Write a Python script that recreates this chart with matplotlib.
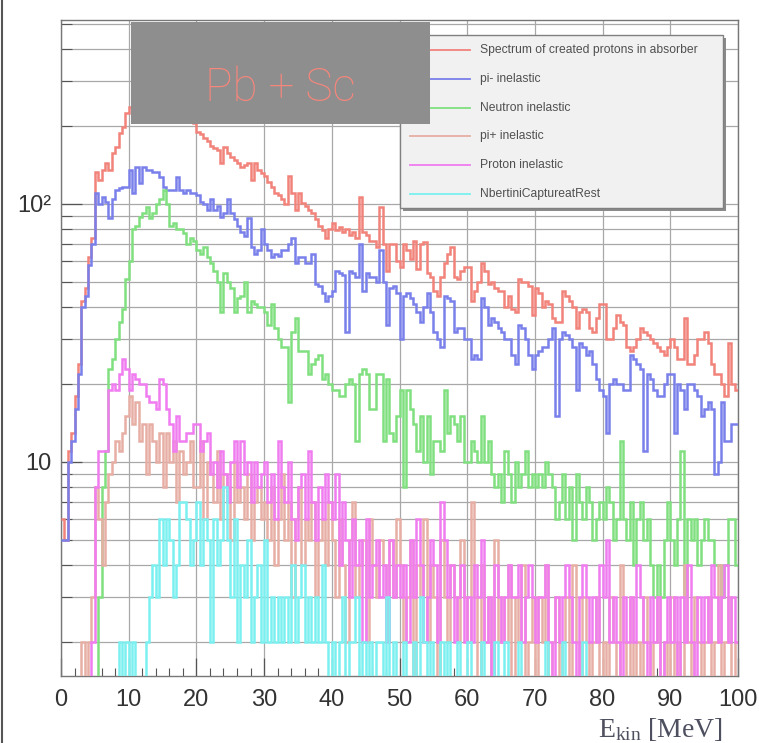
import numpy as np
import matplotlib
matplotlib.use("Agg")
import matplotlib.pyplot as plt
from matplotlib.patches import Rectangle
from matplotlib.lines import Line2D
from matplotlib.ticker import FixedLocator, FixedFormatter, NullFormatter

# ---------------- data (0.5 MeV bins, 0-100 MeV) ----------------
labels = ["Spectrum of created protons in absorber", "pi- inelastic",
          "Neutron inelastic", "pi+ inelastic", "Proton inelastic",
          "NbertiniCaptureatRest"]

spectrum = [
    6, 5, 11, 13, 18, 24, 42, 47, 62, 74, 133, 124, 135, 144, 135, 158, 166, 188, 199, 225,
    238, 250, 270, 285, 300, 310, 320, 330, 325, 335, 320, 310, 300, 290, 275, 262, 250, 235, 215, 205,
    190, 186, 180, 175, 168, 165, 162, 144, 166, 158, 152, 148, 144, 139, 142, 144, 124, 144, 135, 132,
    128, 122, 116, 110, 108, 104, 100, 128, 110, 95, 110, 101, 98, 95, 92, 87, 82, 79, 74, 80,
    84, 79, 81, 78, 80, 76, 78, 74, 106, 78, 76, 72, 72, 68, 97, 70, 55, 70, 70, 60,
    57, 70, 66, 61, 72, 56, 70, 71, 54, 52, 46, 44, 52, 59, 64, 68, 52, 51, 55, 57,
    57, 42, 46, 50, 59, 55, 49, 50, 47, 46, 46, 40, 44, 39, 38, 51, 50, 50, 48, 37,
    47, 45, 40, 42, 41, 36, 35, 35, 46, 44, 42, 40, 33, 38, 39, 38, 33, 32, 36, 41,
    41, 30, 30, 33, 37, 35, 34, 28, 27, 28, 30, 33, 32, 31, 30, 29, 28, 27, 26, 28,
    30, 28, 25, 25, 36, 24, 24, 26, 30, 30, 32, 29, 24, 22, 22, 20, 18, 29, 20, 19]

pim_inel = [
    5, 5, 10, 12, 16, 22, 40, 44, 58, 70, 110, 100, 106, 102, 88, 104, 113, 115, 116, 116,
    135, 110, 139, 120, 139, 135, 135, 133, 133, 127, 116, 113, 113, 113, 127, 113, 110, 113, 110, 110,
    108, 102, 100, 95, 104, 95, 98, 89, 92, 104, 92, 87, 82, 78, 75, 88, 68, 64, 66, 80,
    70, 66, 62, 64, 63, 66, 66, 70, 74, 59, 62, 62, 59, 59, 64, 49, 48, 45, 42, 44,
    46, 55, 54, 53, 32, 55, 54, 52, 70, 46, 54, 52, 52, 50, 66, 50, 34, 47, 48, 45,
    30, 44, 45, 43, 41, 38, 35, 40, 45, 38, 32, 30, 28, 44, 43, 42, 32, 33, 33, 30,
    30, 25, 26, 25, 43, 40, 34, 36, 35, 33, 32, 30, 30, 26, 24, 34, 33, 30, 26, 23,
    26, 27, 28, 28, 30, 33, 15, 30, 32, 31, 30, 28, 19, 29, 28, 26, 27, 24, 21, 19,
    18, 13, 20, 21, 20, 20, 19, 19, 26, 25, 24, 23, 11, 22, 21, 19, 18, 18, 20, 22,
    22, 13, 20, 19, 16, 20, 20, 19, 18, 15, 16, 17, 16, 9, 10, 17, 12, 12, 14, 14]

neutron_inel = [
    0, 0, 0, 0, 0, 0, 0, 0, 0, 0, 1, 3, 8, 11, 23, 25, 30, 35, 39, 51,
    60, 80, 82, 89, 92, 97, 88, 92, 100, 104, 113, 100, 82, 84, 80, 80, 77, 70, 74, 72,
    66, 64, 68, 62, 59, 55, 50, 38, 54, 50, 47, 38, 43, 44, 50, 38, 42, 41, 40, 40,
    38, 34, 41, 33, 30, 28, 28, 17, 32, 36, 27, 27, 27, 22, 24, 25, 26, 21, 22, 20,
    19, 19, 18, 18, 20, 21, 20, 12, 22, 23, 22, 16, 16, 22, 22, 12, 21, 13, 12, 15,
    19, 8, 19, 16, 14, 11, 15, 10, 15, 9, 12, 12, 11, 19, 13, 15, 14, 12, 15, 10,
    10, 12, 11, 10, 15, 10, 12, 9, 8, 9, 7, 11, 9, 7, 10, 8, 9, 11, 8, 9,
    8, 9, 8, 10, 9, 8, 6, 7, 9, 6, 8, 5, 9, 7, 6, 8, 7, 5, 6, 7,
    6, 8, 7, 5, 6, 12, 6, 5, 7, 4, 6, 7, 5, 6, 4, 3, 4, 3, 5, 7,
    5, 4, 6, 11, 3, 6, 5, 6, 4, 5, 6, 5, 5, 4, 4, 3, 4, 6, 6, 4]

pip_inel = [
    0, 0, 0, 0, 0, 0, 2, 0, 2, 3, 8, 6, 4, 7, 9, 10, 12, 11, 13, 15,
    18, 14, 17, 12, 14, 9, 14, 12, 10, 13, 8, 13, 10, 12, 7, 11, 9, 10, 12, 8,
    8, 12, 6, 10, 9, 7, 11, 6, 9, 8, 5, 10, 7, 8, 6, 9, 5, 7, 8, 6,
    7, 5, 8, 4, 6, 9, 5, 7, 3, 6, 8, 4, 6, 5, 7, 3, 5, 6, 4, 7,
    5, 3, 6, 4, 2, 5, 7, 3, 4, 5, 2, 6, 4, 3, 5, 4, 2, 5, 3, 6,
    4, 2, 3, 5, 1, 4, 3, 6, 2, 4, 3, 1, 5, 3, 2, 4, 3, 2, 5, 3,
    2, 7, 3, 1, 4, 2, 3, 1, 5, 2, 3, 2, 4, 1, 3, 2, 4, 1, 2, 3,
    1, 3, 2, 4, 1, 2, 3, 0, 2, 3, 1, 4, 2, 1, 3, 2, 1, 2, 3, 1,
    2, 1, 3, 2, 1, 4, 2, 1, 3, 0, 2, 1, 3, 2, 1, 2, 3, 1, 2, 1,
    3, 1, 2, 1, 4, 2, 1, 3, 2, 1, 2, 3, 1, 2, 4, 1, 2, 3, 1, 2]

proton_inel = [
    0, 0, 0, 0, 0, 0, 0, 0, 0, 2, 8, 11, 11, 11, 19, 20, 19, 22, 25, 23,
    19, 22, 21, 20, 20, 18, 17, 17, 16, 21, 20, 16, 14, 11, 15, 12, 12, 13, 13, 14,
    14, 11, 12, 13, 9, 10, 8, 11, 9, 7, 10, 12, 8, 12, 9, 10, 7, 10, 8, 9,
    10, 7, 9, 6, 12, 8, 7, 10, 6, 5, 8, 9, 6, 11, 7, 5, 8, 6, 9, 7,
    6, 9, 4, 7, 5, 3, 6, 4, 5, 2, 6, 3, 4, 5, 3, 4, 2, 5, 3, 4,
    3, 4, 2, 5, 3, 6, 4, 2, 3, 5, 4, 2, 7, 5, 3, 4, 2, 3, 4, 2,
    3, 2, 4, 3, 5, 2, 3, 1, 4, 3, 2, 3, 4, 3, 3, 4, 2, 3, 4, 3,
    2, 3, 3, 4, 2, 1, 3, 2, 3, 4, 3, 2, 1, 3, 4, 3, 2, 3, 2, 4,
    3, 5, 2, 3, 2, 1, 3, 2, 3, 2, 4, 3, 2, 1, 3, 2, 3, 1, 2, 3,
    2, 3, 1, 3, 2, 4, 2, 1, 3, 2, 3, 2, 4, 3, 2, 3, 4, 2, 3, 2]

bertini_capture = [
    0, 0, 0, 0, 0, 0, 0, 0, 0, 0, 0, 0, 0, 0, 0, 0, 0, 2, 0, 2,
    0, 2, 0, 1, 0, 2, 3, 4, 3, 6, 4, 6, 5, 3, 4, 7, 7, 6, 4, 5,
    7, 4, 6, 5, 2, 6, 4, 5, 8, 5, 3, 6, 2, 4, 3, 5, 2, 3, 4, 2,
    5, 2, 3, 2, 3, 2, 3, 2, 4, 2, 3, 4, 2, 3, 2, 3, 2, 4, 2, 1,
    2, 1, 2, 3, 1, 2, 2, 3, 1, 2, 1, 2, 1, 2, 2, 1, 3, 1, 2, 1,
    1, 2, 1, 0, 2, 1, 3, 2, 1, 2, 0, 1, 2, 1, 2, 1, 0, 2, 1, 1,
    2, 1, 0, 1, 2, 0, 1, 1, 2, 0, 1, 2, 1, 0, 1, 2, 1, 0, 1, 0,
    1, 0, 1, 2, 0, 1, 0, 1, 2, 0, 1, 0, 1, 0, 2, 1, 0, 1, 0, 1,
    0, 1, 0, 1, 0, 0, 1, 0, 1, 0, 0, 1, 0, 0, 1, 0, 0, 1, 0, 0,
    0, 1, 0, 0, 1, 0, 0, 0, 1, 0, 0, 0, 1, 0, 0, 0, 0, 1, 0, 0]

series = [spectrum, pim_inel, neutron_inel, pip_inel, proton_inel, bertini_capture]
colors = ["#f2837b", "#7a80ea", "#80e080", "#e6aea4", "#f07cf0", "#7af0f0"]

x_range = (0, 100)
y_range = (1.48, 516)
x_major = list(range(0, 101, 10))
x_minor = list(range(0, 101, 2))
y_major = [10, 100]
y_major_labels = ["10", "10\u00b2"]
y_minor = [2, 3, 4, 5, 6, 7, 8, 9, 20, 30, 40, 50, 60, 70, 80, 90, 200, 300, 400, 500]

for s in series:
    assert len(s) == 200, len(s)

plt.rcParams["font.family"] = ["Liberation Sans", "DejaVu Sans"]
plt.rcParams["mathtext.fontset"] = "custom"
plt.rcParams["mathtext.rm"] = "Liberation Serif"
plt.rcParams["mathtext.it"] = "Liberation Serif:italic"

W, H = 759, 743
fig = plt.figure(figsize=(W / 100, H / 100), dpi=100)
ax = fig.add_axes([61 / W, 1 - 676 / H, 677 / W, 656 / H])

edges = np.linspace(x_range[0], x_range[1], len(spectrum) + 1)
for vals, col in zip(series, colors):
    v = np.asarray(vals, dtype=float)
    v = np.where(v > 0, v, 0.05)
    ax.stairs(v, edges, color=col, lw=1.8, baseline=None, zorder=3)

ax.set_yscale("log")
ax.set_xlim(*x_range)
ax.set_ylim(*y_range)

ax.xaxis.set_major_locator(FixedLocator(x_major))
ax.xaxis.set_minor_locator(FixedLocator(x_minor))
ax.yaxis.set_major_locator(FixedLocator(y_major))
ax.yaxis.set_major_formatter(FixedFormatter(y_major_labels))
ax.yaxis.set_minor_locator(FixedLocator(y_minor))
ax.yaxis.set_minor_formatter(NullFormatter())

ax.set_axisbelow(True)
ax.yaxis.grid(True, which="both", color="#a8a8a8", lw=0.9)
ax.xaxis.grid(True, which="major", color="#a8a8a8", lw=0.9)

ax.tick_params(axis="x", which="major", direction="in", length=13, width=0.9,
               color="#555555", pad=9, labelsize=17, labelcolor="#333333")
ax.tick_params(axis="x", which="minor", direction="in", length=6, width=0.8,
               color="#555555")
ax.tick_params(axis="y", which="major", direction="in", length=15, width=0.9,
               color="#555555", pad=7, labelsize=17, labelcolor="#333333")
ax.tick_params(axis="y", which="minor", direction="in", length=8, width=0.8,
               color="#555555")
for sp in ax.spines.values():
    sp.set_color("#777777")
    sp.set_linewidth(1.0)

# image border on the left
fig.add_artist(Line2D([1.5 / W, 1.5 / W], [0, 1], color="#555555", lw=1.5))

# legend (manual, ROOT style)
lx0, ly_top, lw_, lh_ = 400, 35, 323, 173
fig.add_artist(Rectangle(((lx0 + 3) / W, 1 - (ly_top + lh_ + 3) / H), lw_ / W, lh_ / H,
                         transform=fig.transFigure, facecolor="#8a8a8a",
                         edgecolor="none", zorder=4))
fig.add_artist(Rectangle((lx0 / W, 1 - (ly_top + lh_) / H), lw_ / W, lh_ / H,
                         transform=fig.transFigure, facecolor="#f1f1f1",
                         edgecolor="#808080", lw=1.0, zorder=5))
for i, (lab, col) in enumerate(zip(labels, colors)):
    yy = 1 - (50 + 28.8 * i) / H
    fig.add_artist(Line2D([410 / W, 470 / W], [yy, yy], color=col, lw=1.3, zorder=6))
    fig.text(480 / W, yy, lab, fontsize=8.7, color="#505050", va="center",
             ha="left", zorder=6)

# grey title box
fig.add_artist(Rectangle((131 / W, 1 - 124 / H), 299 / W, 102 / H,
                         transform=fig.transFigure, facecolor="#8e8e8e",
                         edgecolor="none", zorder=10))
fig.text(280 / W, 1 - 88 / H, "Pb + Sc", fontsize=33, color="#f7867b",
         ha="center", va="center", family=["Roboto", "DejaVu Sans"],
         fontweight="light", zorder=11)

# x-axis title
fig.text(723 / W, 6 / H, r"E$_{\mathrm{kin}}$ [MeV]", ha="right", va="baseline",
         fontsize=20, color="#4e5060", family=["Liberation Serif", "DejaVu Serif"])

fig.savefig("out.png", dpi=100)
